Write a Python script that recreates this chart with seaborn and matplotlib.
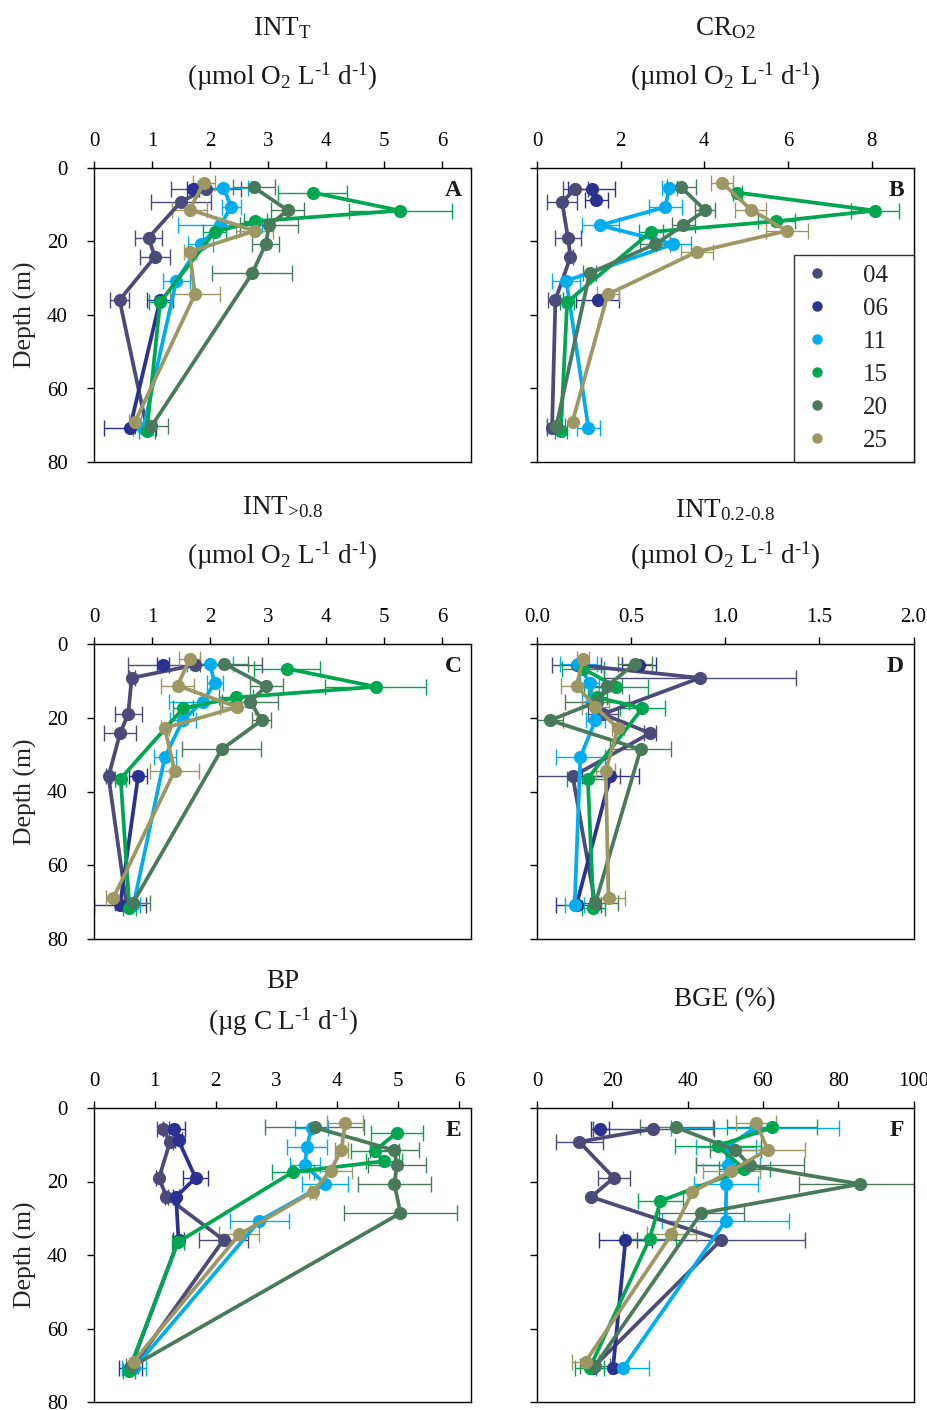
import matplotlib

matplotlib.use("Agg")

import matplotlib.pyplot as plt
import numpy as np
import pandas as pd
import seaborn as sns
from matplotlib.lines import Line2D


CASTS = ["04", "06", "11", "15", "20", "25"]
COLORS = ["#4c4a78", "#2b3190", "#00aeef", "#00a650", "#4a7a5c", "#9c9763"]

# sampling depths (m) of each cast
DEPTHS = {
    "04": [5.7, 9.2, 19.0, 24.2, 35.9, 70.7],
    "06": [5.6, 8.8, 19.0, 24.2, 35.9, 70.7],
    "11": [5.4, 10.6, 15.6, 20.7, 30.7, 70.8],
    "15": [6.7, 11.6, 14.5, 17.4, 36.5, 71.6],
    "20": [5.3, 11.5, 15.6, 20.7, 28.6, 70.3],
    "25": [4.1, 11.3, 17.1, 22.8, 34.4, 69.0],
}
BGE_DEPTHS_15 = [5.3, 10.3, 16.7, 25.3, 35.6, 70.8]

nan = np.nan

INT_T = {
    "04": [1.93, 1.50, 0.94, 1.05, 0.44, 0.91],
    "06": [1.71, nan, nan, nan, 1.14, 0.62],
    "11": [2.23, 2.37, 2.17, 1.84, 1.42, 0.85],
    "15": [3.77, 5.28, 2.78, 2.08, 1.14, 0.91],
    "20": [2.76, 3.34, 3.02, 2.96, 2.73, 0.99],
    "25": [1.89, 1.65, 2.77, 1.65, 1.74, 0.71],
}
INT_T_ERR = {
    "04": [0.61, 0.51, 0.24, 0.26, 0.16, 0.0],
    "06": [0.10, nan, nan, nan, 0.23, 0.45],
    "11": [0.43, 0.17, 0.73, 0.22, 0.23, 0.17],
    "15": [0.59, 0.89, 0.20, 0.20, 0.19, 0.14],
    "20": [0.36, 0.28, 0.50, 0.23, 0.69, 0.29],
    "25": [0.19, 0.30, 0.32, 0.10, 0.43, 0.10],
}

CR_O2 = {
    "04": [0.92, 0.60, 0.74, 0.80, 0.44, 0.36],
    "06": [1.31, 1.42, nan, nan, 1.45, nan],
    "11": [3.16, 3.07, 1.51, 3.26, 0.70, 1.23],
    "15": [4.79, 8.08, 5.72, 2.72, 0.72, 0.57],
    "20": [3.45, 4.02, 3.50, 2.83, 1.26, 0.46],
    "25": [4.43, 5.11, 5.97, 3.82, 1.69, 0.85],
}
CR_O2_ERR = {
    "04": [0.31, 0.35, 0.32, 0.05, 0.18, 0.12],
    "06": [0.56, 0.28, nan, nan, 0.51, nan],
    "11": [0.18, 0.40, 0.44, 0.41, 0.33, 0.28],
    "15": [0.10, 0.58, 0.44, 0.28, 0.16, 0.14],
    "20": [0.34, 0.24, 0.28, 0.36, 0.16, 0.22],
    "25": [0.26, 0.37, 0.50, 0.38, 0.26, 0.0],
}

INT_LARGE = {
    "04": [1.74, 0.65, 0.59, 0.45, 0.25, 0.56],
    "06": [1.19, nan, nan, nan, 0.76, 0.45],
    "11": [2.00, 2.08, 1.88, 1.53, 1.22, 0.68],
    "15": [3.33, 4.86, 2.45, 1.54, 0.46, 0.61],
    "20": [2.24, 2.97, 2.69, 2.89, 2.20, 0.67],
    "25": [1.65, 1.44, 2.47, 1.22, 1.39, 0.33],
}
INT_LARGE_ERR = {
    "04": [1.15, 0.05, 0.23, 0.27, 0.05, 0.0],
    "06": [0.10, nan, nan, nan, 0.16, 0.45],
    "11": [0.39, 0.14, 0.59, 0.22, 0.19, 0.11],
    "15": [0.57, 0.87, 0.29, 0.17, 0.10, 0.11],
    "20": [0.42, 0.28, 0.48, 0.17, 0.68, 0.30],
    "25": [0.18, 0.29, 0.30, 0.07, 0.42, 0.13],
}

INT_SMALL = {
    "04": [0.21, 0.865, 0.35, 0.60, 0.19, 0.31],
    "06": [0.54, nan, nan, nan, 0.39, 0.21],
    "11": [0.22, 0.28, 0.29, 0.31, 0.23, 0.20],
    "15": [0.245, 0.42, 0.32, 0.56, 0.27, 0.30],
    "20": [0.52, 0.37, 0.32, 0.07, 0.55, 0.31],
    "25": [0.245, 0.21, 0.31, 0.43, 0.365, 0.38],
}
INT_SMALL_ERR = {
    "04": [0.13, 0.51, 0.08, 0.03, 0.25, 0.03],
    "06": [0.09, nan, nan, nan, 0.15, 0.11],
    "11": [0.10, 0.05, 0.05, 0.05, 0.13, 0.05],
    "15": [0.11, 0.17, 0.05, 0.12, 0.11, 0.06],
    "20": [0.09, 0.08, 0.17, 0.07, 0.16, 0.12],
    "25": [0.03, 0.08, 0.07, 0.03, 0.05, 0.09],
}

BP = {
    "04": [1.13, 1.25, 1.07, 1.19, 2.13, 0.63],
    "06": [1.32, 1.39, 1.67, 1.35, 1.39, 0.60],
    "11": [3.58, 3.50, 3.47, 3.80, 2.72, 0.66],
    "15": [4.98, 4.62, 4.77, 3.27, 1.38, 0.57],
    "20": [3.63, 4.94, 4.98, 4.94, 5.04, 0.63],
    "25": [4.13, 4.07, 3.89, 3.60, 2.39, 0.65],
}
BP_ERR = {
    "04": [0.10, 0.05, 0.05, 0.03, 0.40, 0.0],
    "06": [0.18, 0.05, 0.21, 0.05, 0.09, 0.19],
    "11": [0.27, 0.33, 0.24, 0.38, 0.48, 0.20],
    "15": [0.43, 0.40, 0.30, 0.34, 0.10, 0.10],
    "20": [0.81, 0.40, 0.48, 0.60, 0.93, 0.10],
    "25": [0.29, 0.10, 0.36, 0.05, 0.33, 0.0],
}

BGE = {
    "04": [30.9, 11.2, 20.4, 14.4, 48.9, 14.8],
    "06": [16.8, nan, nan, nan, 23.5, 20.2],
    "11": [58.0, 50.3, 50.7, 50.3, 50.1, 22.8],
    "15": [62.5, 48.0, 55.1, 32.8, 29.9, 14.0],
    "20": [37.0, 52.7, 56.5, 85.7, 43.6, 15.3],
    "25": [58.2, 61.3, 51.6, 41.3, 35.7, 12.9],
}
BGE_ERR = {
    "04": [16.0, 6.2, 4.2, 0.0, 22.3, 0.0],
    "06": [2.4, nan, nan, nan, 7.0, 0.0],
    "11": [22.3, 8.0, 8.6, 8.5, 16.9, 7.0],
    "15": [12.0, 11.4, 6.7, 6.0, 7.0, 3.8],
    "20": [9.7, 6.7, 14.4, 16.0, 11.3, 4.0],
    "25": [5.3, 10.0, 7.5, 0.0, 6.5, 3.5],
}

UNIT_O2 = r"(µmol O$_\mathrm{2}$ L$^{\text{-1}}$ d$^{\text{-1}}$)"

# (values, errors, letter, xlim, xticks, tick format, title lines)
PANELS = [
    (INT_T, INT_T_ERR, "A", 6.5, [0, 1, 2, 3, 4, 5, 6], "{:g}",
     [r"INT$_\mathrm{T}$", UNIT_O2]),
    (CR_O2, CR_O2_ERR, "B", 9.0, [0, 2, 4, 6, 8], "{:g}",
     [r"CR$_\mathrm{O2}$", UNIT_O2]),
    (INT_LARGE, INT_LARGE_ERR, "C", 6.5, [0, 1, 2, 3, 4, 5, 6], "{:g}",
     [r"INT$_{\text{>0.8}}$", UNIT_O2]),
    (INT_SMALL, INT_SMALL_ERR, "D", 2.0, [0, 0.5, 1.0, 1.5, 2.0], "{:.1f}",
     [r"INT$_{\text{0.2-0.8}}$", UNIT_O2]),
    (BP, BP_ERR, "E", 6.2, [0, 1, 2, 3, 4, 5, 6], "{:g}",
     ["BP", r"(µg C L$^{\text{-1}}$ d$^{\text{-1}}$)"]),
    (BGE, BGE_ERR, "F", 100, [0, 20, 40, 60, 80, 100], "{:g}",
     ["BGE (%)"]),
]

# axes boxes in pixels: left, top, right, bottom
W, H = 927, 1410
BOXES = [
    (94, 168, 471, 462),
    (537, 168, 913.5, 462),
    (94, 644, 471, 939),
    (537, 644, 913.5, 939),
    (94, 1108, 471, 1402),
    (537, 1108, 913.5, 1402),
]
TITLE_Y = [
    (28, 77), (28, 77),
    (507, 556), (510, 556),
    (982, 1022), (1000,),
]


def cast_depths(cast, letter):
    if letter == "F" and cast == "15":
        return BGE_DEPTHS_15
    return DEPTHS[cast]


def panel_frame(values, letter):
    # one "seg" per unbroken run of values, so gaps break the line
    rows = []
    for cast in CASTS:
        seg = 0
        prev_ok = False
        for depth, val in zip(cast_depths(cast, letter), values[cast]):
            ok = not np.isnan(val)
            if ok and not prev_ok:
                seg += 1
            if ok:
                rows.append({"cast": cast, "depth": depth, "value": val,
                             "seg": f"{cast}-{seg}"})
            prev_ok = ok
    return pd.DataFrame(rows)


sns.set_theme(style="ticks")
plt.rcParams["font.family"] = ["Liberation Serif", "DejaVu Serif"]
plt.rcParams["mathtext.fontset"] = "custom"
plt.rcParams["mathtext.rm"] = "Liberation Serif"
plt.rcParams["mathtext.it"] = "Liberation Serif:italic"
plt.rcParams["mathtext.bf"] = "Liberation Serif:bold"

palette = dict(zip(CASTS, COLORS))

fig = plt.figure(figsize=(W / 100, H / 100), dpi=100)

for i, (values, errors, letter, xmax, xticks, fmt, titles) in enumerate(PANELS):
    left, top, right, bottom = BOXES[i]
    ax = fig.add_axes([left / W, 1 - bottom / H, (right - left) / W, (bottom - top) / H])

    for cast in CASTS:
        x = np.array(values[cast], dtype=float)
        e = np.array(errors[cast], dtype=float)
        y = np.array(cast_depths(cast, letter))
        mask = ~np.isnan(x) & (np.nan_to_num(e) > 0)
        ax.errorbar(x[mask], y[mask], xerr=e[mask], fmt="none",
                    ecolor=palette[cast], elinewidth=1.0, capsize=6,
                    capthick=1.0, zorder=1.5)

    df = panel_frame(values, letter)
    sns.lineplot(
        data=df, x="value", y="depth", hue="cast", units="seg",
        estimator=None, sort=False, palette=palette, hue_order=CASTS,
        marker="o", markersize=9.5, markeredgewidth=0, linewidth=2.7,
        legend=False, ax=ax,
    )

    ax.set_xlim(0, xmax)
    ax.set_ylim(80, 0)
    ax.set_xticks(xticks)
    ax.set_xticklabels([fmt.format(t) for t in xticks])
    ax.set_yticks([0, 20, 40, 60, 80])
    ax.xaxis.tick_top()
    ax.tick_params(axis="x", direction="out", length=5, width=1, pad=7,
                   labelsize=15, colors="black")
    ax.tick_params(axis="y", direction="out", length=5, width=1, pad=14,
                   labelsize=15, colors="black")
    ax.set_xlabel("")
    if i % 2 == 0:
        ax.set_ylabel("Depth (m)", fontsize=18.5, labelpad=7)
    else:
        ax.set_ylabel("")
        ax.set_yticklabels([])
    for spine in ax.spines.values():
        spine.set_visible(True)
        spine.set_color("black")
        spine.set_linewidth(1.0)

    ax.text(0.975, 0.925, letter, transform=ax.transAxes, ha="right",
            va="center", fontsize=17, fontweight="bold", color="#1a1a1a")

    cx = (left + right) / 2 / W
    for ty, text in zip(TITLE_Y[i], titles):
        fig.text(cx, 1 - ty / H, text, ha="center", va="center", fontsize=19.5,
                 color="#1a1a1a")

    if letter == "B":
        handles = [
            Line2D([], [], linestyle="none", marker="o", markersize=7.5,
                   markeredgewidth=0, color=palette[c])
            for c in CASTS
        ]
        x0 = (794 - left) / (right - left)
        leg = ax.legend(handles, CASTS, loc="lower left",
                        bbox_to_anchor=(x0, 0, 1 - x0, 0.5), mode="expand",
                        borderaxespad=0, fontsize=18, frameon=True,
                        fancybox=False, handlelength=1.0, handletextpad=1.35,
                        labelspacing=0.42, borderpad=0.4)
        leg.get_frame().set_edgecolor("black")
        leg.get_frame().set_linewidth(1.0)

fig.savefig("out.png", dpi=100)
